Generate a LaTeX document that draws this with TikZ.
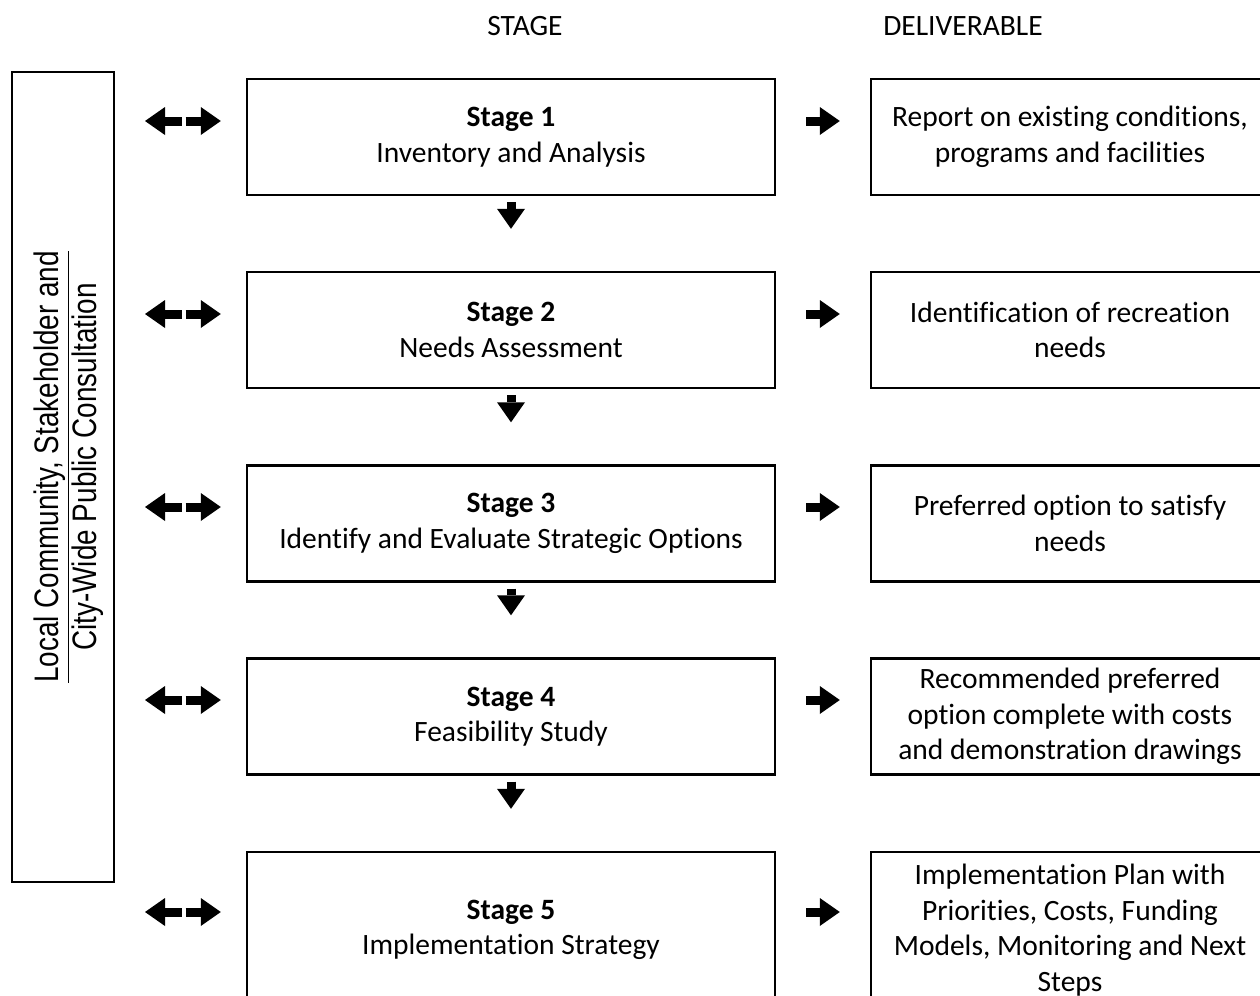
\documentclass[tikz,border=0pt]{standalone}
\usepackage{fontspec}
\setmainfont[Ligatures=NoCommon]{Carlito}
\newfontfamily\narrowfont[FakeStretch=0.82]{Liberation Sans}
\usepackage{graphicx}
\usetikzlibrary{arrows.meta}
\tikzset{
  boxtext/.style={font=\fontsize{14.75pt}{17.8pt}\selectfont, align=center},
  stagebox/.style={boxtext, draw, line width=1.2pt, minimum width=264pt, minimum height=58pt, inner sep=0pt},
  delivbox/.style={boxtext, draw, line width=1.2pt, minimum width=199pt, minimum height=58pt, inner sep=0pt},
  consbox/.style={draw, line width=1pt, minimum width=51pt, minimum height=405pt, inner sep=0pt},
  constext/.style={rotate=90, align=center, inner sep=0pt, font=\narrowfont\fontsize{17pt}{19pt}\selectfont},
  headtext/.style={font=\fontsize{14.75pt}{18pt}\selectfont},
  blockarrow/.style={line width=4.5pt, -{Triangle[width=14pt,length=10pt,line width=0pt]}}
}
\begin{document}
\begin{tikzpicture}[x=0.5pt,y=-0.5pt]
  \useasboundingbox (0,0) rectangle (1260,996);
  \clip (0,0) rectangle (1260,996);
  \node[headtext] (hdstage) at (525,26) {STAGE};
  \node[headtext] (hddeliv) at (963,26) {DELIVERABLE};
  \node[consbox] (cons) at (63,477) {};
  \node[constext] (constxt) at (69,467) {\underline{Local Community, Stakeholder and}\\City-Wide Public Consultation};
  \node[stagebox] (s1) at (511,137) {\textbf{Stage 1}\\Inventory and Analysis};
  \node[stagebox] (s2) at (511,330) {\textbf{Stage 2}\\Needs Assessment};
  \node[stagebox] (s3) at (511,523.5) {\textbf{Stage 3}\\Identify and Evaluate Strategic Options};
  \node[stagebox] (s4) at (511,716.5) {\textbf{Stage 4}\\Feasibility Study};
  \node[stagebox, minimum height=78pt] (s5) at (511,930) {\textbf{Stage 5}\\Implementation Strategy};
  \node[delivbox] (d1) at (1070,137) {Report on existing conditions,\\programs and facilities};
  \node[delivbox] (d2) at (1070,330) {Identification of recreation\\needs};
  \node[delivbox] (d3) at (1070,523.5) {Preferred option to satisfy\\needs};
  \node[delivbox] (d4) at (1070,716.5) {Recommended preferred\\option complete with costs\\and demonstration drawings};
  \node[delivbox, minimum height=78pt] (d5) at (1070,930) {Implementation Plan with\\Priorities, Costs, Funding\\Models, Monitoring and Next\\Steps};
  \coordinate (g1) at (183.5,121);
  \coordinate (g2) at (183.5,314);
  \coordinate (g3) at (183.5,507);
  \coordinate (g4) at (183.5,700);
  \coordinate (g5) at (183.5,912);
  \begin{scope}[blockarrow]
    \draw[shorten <=3pt, shorten >=21pt] (s1.south) to (s2.north);
    \draw[shorten <=3pt, shorten >=21pt] (s2.south) to (s3.north);
    \draw[shorten <=3pt, shorten >=21pt] (s3.south) to (s4.north);
    \draw[shorten <=3pt, shorten >=21pt] (s4.south) to (s5.north);
    \draw[shorten <=1pt, shorten >=15pt] (g1) to (g1 -| cons.east);
    \draw[shorten <=1pt, shorten >=15pt] (g2) to (g2 -| cons.east);
    \draw[shorten <=1pt, shorten >=15pt] (g3) to (g3 -| cons.east);
    \draw[shorten <=1pt, shorten >=15pt] (g4) to (g4 -| cons.east);
    \draw[shorten <=1pt, shorten >=15pt] (g5) to (g5 -| cons.east);
    \draw[shorten <=1pt, shorten >=12.5pt] (g1) to (g1 -| s1.west);
    \draw[shorten <=1pt, shorten >=12.5pt] (g2) to (g2 -| s2.west);
    \draw[shorten <=1pt, shorten >=12.5pt] (g3) to (g3 -| s3.west);
    \draw[shorten <=1pt, shorten >=12.5pt] (g4) to (g4 -| s4.west);
    \draw[shorten <=1pt, shorten >=12.5pt] (g5) to (g5 -| s5.west);
    \draw[shorten <=15pt, shorten >=15pt] (g1 -| s1.east) to (g1 -| d1.west);
    \draw[shorten <=15pt, shorten >=15pt] (g2 -| s2.east) to (g2 -| d2.west);
    \draw[shorten <=15pt, shorten >=15pt] (g3 -| s3.east) to (g3 -| d3.west);
    \draw[shorten <=15pt, shorten >=15pt] (g4 -| s4.east) to (g4 -| d4.west);
    \draw[shorten <=15pt, shorten >=15pt] (g5 -| s5.east) to (g5 -| d5.west);
  \end{scope}
\end{tikzpicture}
\end{document}
